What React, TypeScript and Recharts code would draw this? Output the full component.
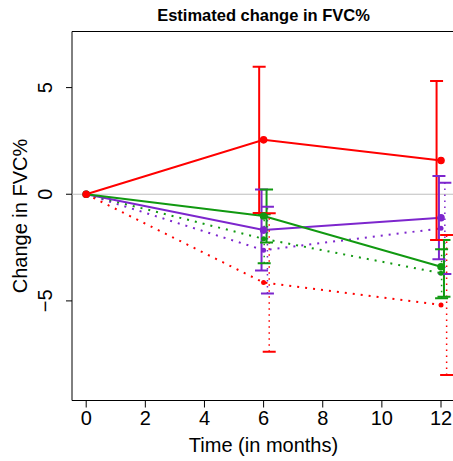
import React from 'react';
import { ComposedChart, Line, Scatter, ErrorBar, XAxis, YAxis, ReferenceLine, ReferenceArea } from 'recharts';

const TIME = [0, 6, 12];
const X_TICKS = [0, 2, 4, 6, 8, 10, 12];
const Y_TICKS = [-5, 0, 5];

const RED_SOLID = [0, 2.55, 1.58];
const RED_SOLID_LO = [0, -0.88, -2.15];
const RED_SOLID_HI = [0, 5.98, 5.31];
const RED_DOTTED = [0, -4.14, -5.19];
const RED_DOTTED_LO = [0, -7.39, -8.47];
const RED_DOTTED_HI = [0, -0.89, -1.91];
const PURPLE_SOLID = [0, -1.68, -1.1];
const PURPLE_SOLID_LO = [0, -3.58, -3.05];
const PURPLE_SOLID_HI = [0, 0.22, 0.85];
const PURPLE_DOTTED = [0, -2.62, -1.6];
const PURPLE_DOTTED_LO = [0, -4.65, -3.74];
const PURPLE_DOTTED_HI = [0, -0.59, 0.54];
const GREEN_SOLID = [0, -1.02, -3.4];
const GREEN_SOLID_LO = [0, -2.26, -4.8];
const GREEN_SOLID_HI = [0, 0.22, -2.15];
const GREEN_DOTTED = [0, -2.09, -3.7];
const GREEN_DOTTED_LO = [0, -3.24, -4.88];
const GREEN_DOTTED_HI = [0, -0.94, -2.58];

const RED = '#FF0000';
const PURPLE = '#7D26CD';
const GREEN = '#119911';
const FONT = '"Liberation Sans", Arial, Helvetica, sans-serif';

const X_DOMAIN: [number, number] = [-0.48, 12.48];
const Y_DOMAIN: [number, number] = [-9.67, 7.63];

type S = {
  key: string; vals: number[]; lo: number[]; hi: number[]; color: string; dotted: boolean; jitter: number;
};

const SERIES: S[] = [
  { key: 'pd', vals: PURPLE_DOTTED, lo: PURPLE_DOTTED_LO, hi: PURPLE_DOTTED_HI, color: PURPLE, dotted: true, jitter: 0.13 },
  { key: 'gd', vals: GREEN_DOTTED, lo: GREEN_DOTTED_LO, hi: GREEN_DOTTED_HI, color: GREEN, dotted: true, jitter: 0.02 },
  { key: 'rd', vals: RED_DOTTED, lo: RED_DOTTED_LO, hi: RED_DOTTED_HI, color: RED, dotted: true, jitter: 0.19 },
  { key: 'ps', vals: PURPLE_SOLID, lo: PURPLE_SOLID_LO, hi: PURPLE_SOLID_HI, color: PURPLE, dotted: false, jitter: -0.07 },
  { key: 'gs', vals: GREEN_SOLID, lo: GREEN_SOLID_LO, hi: GREEN_SOLID_HI, color: GREEN, dotted: false, jitter: 0.1 },
  { key: 'rs', vals: RED_SOLID, lo: RED_SOLID_LO, hi: RED_SOLID_HI, color: RED, dotted: false, jitter: -0.15 },
];

const lineData = (vals: number[]) => TIME.map((t, i) => ({ x: t, y: vals[i] }));
const errData = (s: S) =>
  TIME.map((t, i) => ({ x: t + s.jitter, y: s.vals[i], err: [s.vals[i] - s.lo[i], s.hi[i] - s.vals[i]] })).filter((_, i) => i > 0);
const capData = (s: S) =>
  TIME.flatMap((t, i) => (i > 0 ? [{ x: t + s.jitter, y: s.lo[i] }, { x: t + s.jitter, y: s.hi[i] }] : []));

const YTick = (props: any) => {
  const { y, payload } = props;
  const label = payload.value < 0 ? '\u2212' + Math.abs(payload.value) : String(payload.value);
  return (
    <text x={52} y={y} transform={`rotate(-90, 52, ${y})`} textAnchor="middle" fontSize={20} fill="#000" fontFamily={FONT}>
      {label}
    </text>
  );
};

export default function App() {
  return (
    <div style={{ position: 'absolute', left: 0, top: 0, width: 453, height: 461, overflow: 'hidden', background: '#fff' }}>
      <ComposedChart
        width={460}
        height={461}
        margin={{ top: 31.5, right: 4.8, bottom: 0, left: 0 }}
        style={{ fontFamily: FONT }}
      >
        <XAxis
          type="number"
          dataKey="x"
          domain={X_DOMAIN}
          ticks={X_TICKS}
          allowDataOverflow
          height={60.5}
          tickSize={7}
          tickMargin={3}
          axisLine={false}
          tickLine={{ stroke: '#000' }}
          tick={{ fontSize: 20, fill: '#000', fontFamily: FONT }}
        />
        <YAxis
          type="number"
          dataKey="y"
          domain={Y_DOMAIN}
          ticks={Y_TICKS}
          allowDataOverflow
          width={72}
          tickSize={6}
          axisLine={false}
          tickLine={{ stroke: '#000' }}
          tick={<YTick />}
        />
        <ReferenceLine y={0} stroke="#BEBEBE" strokeWidth={1} />
        <ReferenceArea x1={X_DOMAIN[0]} x2={X_DOMAIN[1]} y1={Y_DOMAIN[0]} y2={Y_DOMAIN[1]} fill="none" stroke="#000" strokeWidth={1} ifOverflow="visible" />
        {SERIES.map((s) => (
          <Line
            key={'l' + s.key}
            data={lineData(s.vals)}
            dataKey="y"
            stroke={s.color}
            strokeWidth={2}
            strokeDasharray={s.dotted ? '2 6' : undefined}
            isAnimationActive={false}
            dot={false}
            activeDot={false}
          />
        ))}
        {SERIES.map((s) => (
          <Scatter
            key={'e' + s.key}
            data={errData(s)}
            dataKey="y"
            isAnimationActive={false}
            shape={() => <g />}
          >
            <ErrorBar
              dataKey="err"
              direction="y"
              width={0}
              stroke={s.color}
              strokeWidth={s.dotted ? 1.5 : 2}
              strokeDasharray={s.dotted ? '1.5 4.5' : undefined}
              isAnimationActive={false}
            />
          </Scatter>
        ))}
        {SERIES.map((s) => (
          <Scatter
            key={'c' + s.key}
            data={capData(s)}
            dataKey="y"
            isAnimationActive={false}
            shape={(p: any) => (
              <line x1={p.cx - 6.5} x2={p.cx + 6.5} y1={p.cy} y2={p.cy} stroke={s.color} strokeWidth={2} />
            )}
          />
        ))}
        {SERIES.map((s) => (
          <Scatter
            key={'p' + s.key}
            data={lineData(s.vals)}
            dataKey="y"
            isAnimationActive={false}
            shape={(p: any) => <circle cx={p.cx} cy={p.cy} r={s.dotted ? 2.5 : 3.8} fill={s.color} />}
          />
        ))}
      </ComposedChart>
      <svg width={453} height={461} style={{ position: 'absolute', left: 0, top: 0, pointerEvents: 'none' }}>
        <text x={263.5} y={21} textAnchor="middle" fontSize={16.5} fontWeight="bold" fontFamily={FONT} fill="#000">
          Estimated change in FVC%
        </text>
        <text x={263.5} y={452} textAnchor="middle" fontSize={20} fontFamily={FONT} fill="#000">
          Time (in months)
        </text>
        <text x={27} y={216} transform="rotate(-90, 27, 216)" textAnchor="middle" fontSize={20} fontFamily={FONT} fill="#000">
          Change in FVC%
        </text>
      </svg>
    </div>
  );
}
